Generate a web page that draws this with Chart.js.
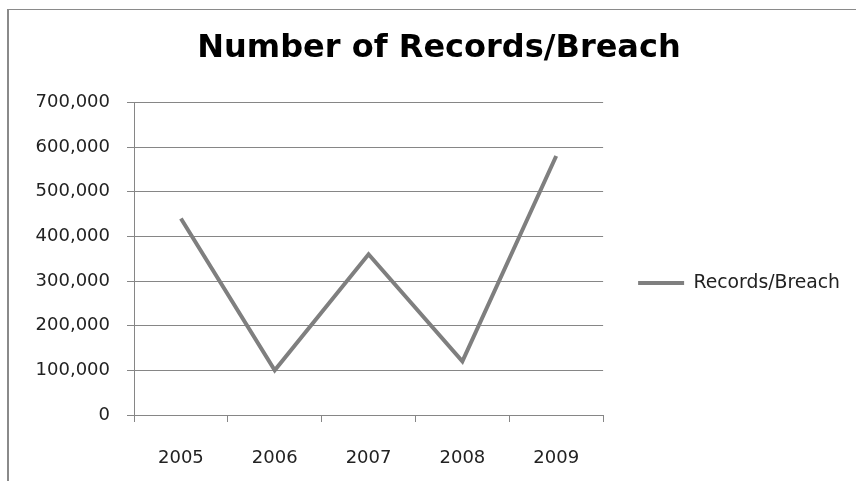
<!DOCTYPE html>
<html>
<head>
<meta charset="utf-8">
<script src="https://cdn.jsdelivr.net/npm/chart.js@4.4.1/dist/chart.umd.min.js"></script>
<style>
  html, body { margin: 0; padding: 0; background: #fff; }
  #wrap { position: relative; width: 856px; height: 481px; }
</style>
</head>
<body>
<div id="wrap"><canvas id="chart" width="856" height="481"></canvas></div>
<script>
const years = ['2005', '2006', '2007', '2008', '2009'];
const recordsPerBreach = [440000, 100000, 360000, 120000, 580000];
const yTicks = [0, 100000, 200000, 300000, 400000, 500000, 600000, 700000];

const grey = '#868686';
const ctx = document.querySelector('#chart');

// thin frame on the left and top, like the original chart box
const frame = {
    id: 'frame',
    beforeDraw(chart) {
        const c = chart.ctx;
        c.save();
        c.fillStyle = '#8a8a8a';
        c.fillRect(7, 9, 2, 472);
        c.fillRect(7, 9, 849, 1);
        c.restore();
    }
};

new Chart(ctx, {
    type: 'line',
    data: {
        labels: years,
        datasets: [
            {
                label: 'Records/Breach',
                data: recordsPerBreach,
                borderColor: '#7f7f7f',
                backgroundColor: '#7f7f7f',
                borderWidth: 4,
                pointRadius: 0,
                tension: 0
            }
        ]
    },
    options: {
        responsive: false,
        animation: false,
        layout: { padding: { left: 28, right: 6, top: 0, bottom: 10 } },
        plugins: {
            title: {
                display: true,
                text: 'Number of Records/Breach',
                color: '#000',
                font: { family: 'DejaVu Sans', size: 32, weight: 'bold' },
                padding: { top: 29, bottom: 35 }
            },
            legend: {
                position: 'right',
                maxWidth: 300,
                title: {
                    display: true,
                    text: '',
                    font: { size: 10 },
                    padding: { top: 0, bottom: 83 }
                },
                labels: {
                    usePointStyle: true,
                    pointStyle: 'line',
                    pointStyleWidth: 46,
                    boxHeight: 16,
                    padding: 35,
                    color: '#222',
                    font: { family: 'DejaVu Sans', size: 18.8 }
                }
            },
            tooltip: { enabled: false }
        },
        scales: {
            x: {
                offset: true,
                grid: { offset: true, drawOnChartArea: false, color: grey, tickLength: 7 },
                border: { color: grey },
                ticks: { color: '#222', padding: 26, font: { family: 'DejaVu Sans', size: 18 } },
                afterFit(scale) { scale.height = 56; }
            },
            y: {
                min: 0,
                max: 700000,
                afterBuildTicks(scale) { scale.ticks = yTicks.map(v => ({ value: v })); },
                grid: { color: grey, tickLength: 7 },
                border: { color: grey },
                ticks: {
                    color: '#222',
                    padding: 17,
                    font: { family: 'DejaVu Sans', size: 18 },
                    callback: v => v.toLocaleString('en-US')
                },
                afterFit(scale) { scale.width = 106; }
            }
        }
    },
    plugins: [frame]
});
</script>
</body>
</html>
